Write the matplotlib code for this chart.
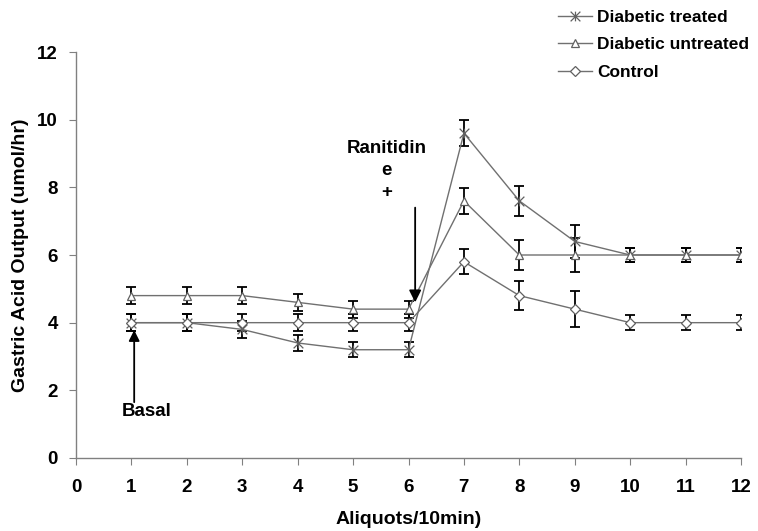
import matplotlib
matplotlib.use("Agg")
import matplotlib.pyplot as plt
from matplotlib.path import Path

plt.rcParams['font.family'] = ['Liberation Sans', 'DejaVu Sans']

aliquots = [1, 2, 3, 4, 5, 6, 7, 8, 9, 10, 11, 12]
treated = [4.0, 4.0, 3.8, 3.4, 3.2, 3.2, 9.6, 7.6, 6.4, 6.0, 6.0, 6.0]
treated_err = [0.25, 0.25, 0.25, 0.25, 0.22, 0.22, 0.38, 0.45, 0.5, 0.22, 0.22, 0.22]
untreated = [4.8, 4.8, 4.8, 4.6, 4.4, 4.4, 7.6, 6.0, 6.0, 6.0, 6.0, 6.0]
untreated_err = [0.25, 0.25, 0.25, 0.25, 0.25, 0.25, 0.38, 0.43, 0.5, 0.22, 0.22, 0.22]
control = [4.0, 4.0, 4.0, 4.0, 4.0, 4.0, 5.8, 4.8, 4.4, 4.0, 4.0, 4.0]
control_err = [0.25, 0.25, 0.25, 0.25, 0.25, 0.25, 0.37, 0.43, 0.53, 0.22, 0.22, 0.22]

star = Path([(-1, -1), (1, 1), (-1, 1), (1, -1), (0, -1), (0, 1)],
            [Path.MOVETO, Path.LINETO, Path.MOVETO, Path.LINETO, Path.MOVETO, Path.LINETO])

series = [
    ("Diabetic treated", treated, treated_err, star, 7),
    ("Diabetic untreated", untreated, untreated_err, "^", 6),
    ("Control", control, control_err, "D", 5),
]

FS = 13.5

fig = plt.figure(figsize=(7.58, 5.31), dpi=100)
ax = fig.add_axes([76/758, 1-458/531, (741-76)/758, (458-52)/531])

handles = []
for name, vals, errs, mk, ms in series:
    ax.errorbar(aliquots, vals, yerr=errs, fmt='none', ecolor='black',
                elinewidth=1.3, capsize=3.5, capthick=1.3, zorder=2)
    h, = ax.plot(aliquots, vals, color='#707070', lw=1.0, marker=mk,
                 markersize=ms, markerfacecolor='white', markeredgecolor='#606060',
                 markeredgewidth=0.9, zorder=3, label=name)
    handles.append(h)

ax.set_xlim(0, 12)
ax.set_ylim(0, 12)
ax.set_xticks(range(0, 13))
ax.set_yticks(range(0, 13, 2))
for s in ['top', 'right']:
    ax.spines[s].set_visible(False)
for s in ['left', 'bottom']:
    ax.spines[s].set_color('#808080')
    ax.spines[s].set_linewidth(1.0)
ax.tick_params(axis='both', direction='out', length=5, color='#808080',
               labelsize=FS)
ax.tick_params(axis='x', pad=10)
ax.tick_params(axis='y', pad=8)
for lab in ax.get_xticklabels() + ax.get_yticklabels():
    lab.set_fontweight('bold')

ax.set_xlabel("Aliquots/10min)", fontsize=14, fontweight='bold', labelpad=11)
ax.set_ylabel("Gastric Acid Output (umol/hr)", fontsize=14, fontweight='bold', labelpad=6)

ax.annotate("", xy=(6.12, 4.6), xytext=(6.12, 7.4),
            arrowprops=dict(arrowstyle='-|>', color='black', lw=1.3,
                            mutation_scale=18, shrinkA=0, shrinkB=0))
ax.text(5.61, 8.5, "Ranitidin\ne\n+", ha='center', va='center', fontsize=FS,
        fontweight='bold', linespacing=1.4)

ax.annotate("", xy=(1.05, 3.78), xytext=(1.05, 1.65),
            arrowprops=dict(arrowstyle='-|>', color='black', lw=1.3,
                            mutation_scale=16, shrinkA=0, shrinkB=0))
ax.text(1.28, 1.36, "Basal", ha='center', va='center', fontsize=FS, fontweight='bold')

leg = fig.legend(handles=handles, loc='upper left', bbox_to_anchor=(548/758, 1.0),
                 frameon=False, fontsize=12.5, handlelength=2.0, handletextpad=0.3,
                 labelspacing=0.72, borderaxespad=0.15)
for t in leg.get_texts():
    t.set_fontweight('bold')

fig.savefig("out.png", dpi=100)
